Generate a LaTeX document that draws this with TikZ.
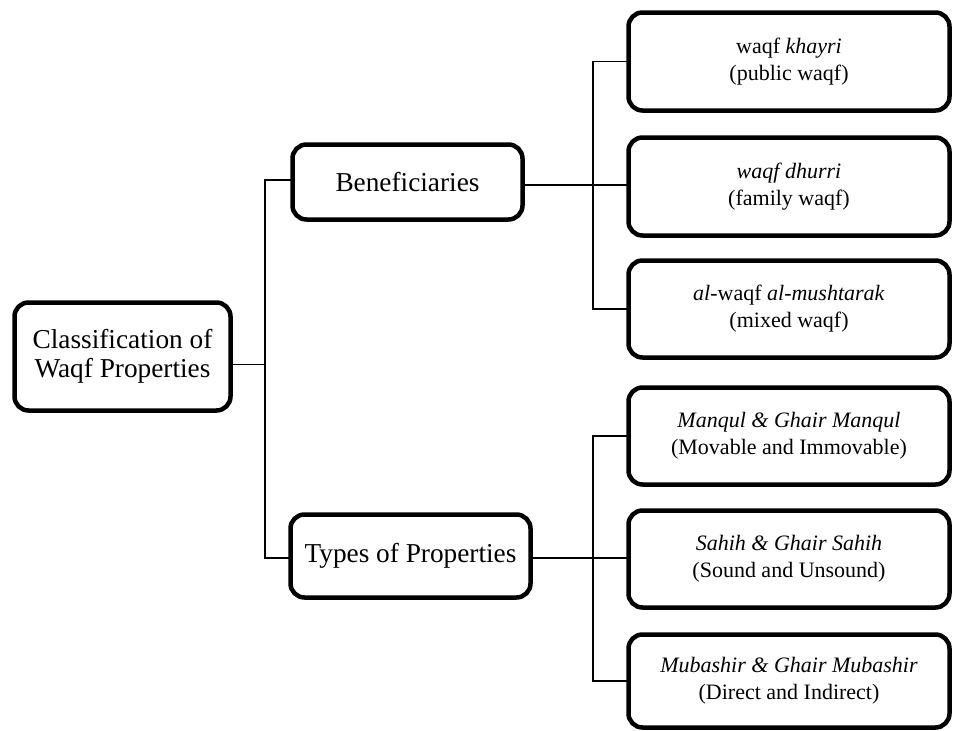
\documentclass[tikz,border=0pt]{standalone}
\usepackage{fontspec}
\setmainfont{Liberation Serif}
\begin{document}
\begin{tikzpicture}[x=1pt,y=-1pt,
  boxbase/.style={draw=black, line width=4.5pt, rounded corners=14pt, fill=white,
    align=center, inner sep=0pt, outer sep=0pt, text=black},
  bigbox/.style={boxbase, font=\fontsize{27.3}{29}\selectfont},
  smallbox/.style={boxbase, font=\fontsize{22}{27}\selectfont,
    minimum width=321pt, minimum height=97pt},
  link/.style={draw=black, line width=1.3pt}]
\useasboundingbox (0,0) rectangle (956,731);

\node[bigbox, minimum width=216pt, minimum height=108pt] (root) at (122.5,356.5)
  {Classification of\\Waqf Properties};
\node[bigbox, minimum width=230pt, minimum height=75pt] (ben) at (407.5,182)
  {Beneficiaries};
\node[bigbox, minimum width=240pt, minimum height=83pt] (types) at (410.5,556)
  {Types of Properties};

\node[smallbox, minimum height=98pt] (r1) at (789,61.5) {waqf \textit{khayri}\\(public waqf)};
\node[smallbox, minimum height=98pt] (r2) at (789,186.5) {\textit{waqf dhurri}\\(family waqf)};
\node[smallbox] (r3) at (789,309) {\textit{al}-waqf \textit{al-mushtarak}\\(mixed waqf)};
\node[smallbox] (r4) at (789,436) {\textit{Manqul \& Ghair Manqul}\\(Movable and Immovable)};
\node[smallbox] (r5) at (789,559) {\textit{Sahih \& Ghair Sahih}\\(Sound and Unsound)};
\node[smallbox, minimum height=93pt] (r6) at (789,681) {\textit{Mubashir \& Ghair Mubashir}\\(Direct and Indirect)};

\coordinate (sl) at (265,0);
\coordinate (sr) at (593,0);

% left spine
\draw[link] ([yshift=-8pt]root.east) -- ([yshift=-8pt]root.east -| sl);
\draw[link] ([yshift=2pt]ben.west) -- ([yshift=2pt]ben.west -| sl) -- ([yshift=-2pt]types.west -| sl) -- ([yshift=-2pt]types.west);

% upper right spine
\draw[link] ([yshift=-3pt]ben.east) -- ([yshift=-3pt]ben.east -| r2.west);
\draw[link] (r1.west) -- (r1.west -| sr) -- (r3.west -| sr) -- (r3.west);

% lower right spine
\draw[link] ([yshift=-2pt]types.east) -- ([yshift=-2pt]types.east -| r5.west);
\draw[link] (r4.west) -- (r4.west -| sr) -- (r6.west -| sr) -- (r6.west);
\end{tikzpicture}
\end{document}
